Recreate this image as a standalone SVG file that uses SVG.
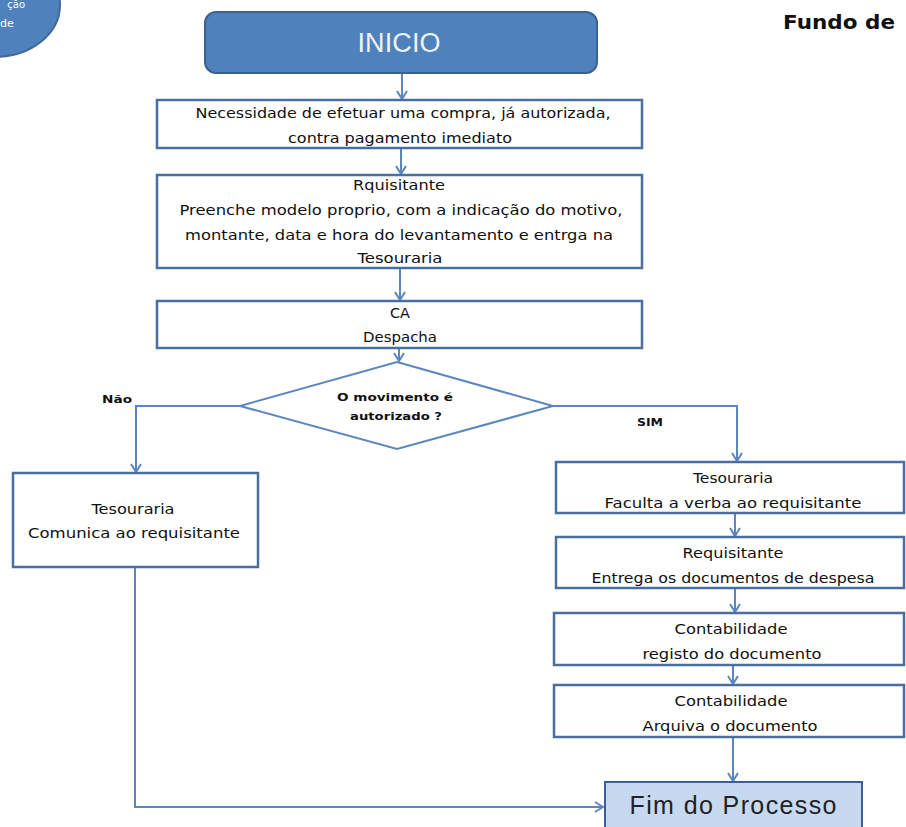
<svg xmlns="http://www.w3.org/2000/svg" width="906" height="827" viewBox="0 0 906 827">
<style>
.box{fill:#ffffff;stroke:#4a6f9e;stroke-width:2.5}
.t{font-family:"DejaVu Sans","Liberation Sans",sans-serif;font-size:13.5px;fill:#111;text-anchor:middle}
.s{font-family:"DejaVu Sans","Liberation Sans",sans-serif;font-size:11px;fill:#111;text-anchor:middle;font-weight:bold}
.c{fill:none;stroke:#5b86bf;stroke-width:2;marker-end:url(#ah)}
</style>
<defs>
<marker id="ah" markerUnits="userSpaceOnUse" viewBox="0 0 10 12" refX="9" refY="6" markerWidth="10" markerHeight="12" orient="auto">
<path d="M1,1 L9,6 L1,11" fill="none" stroke="#5b86bf" stroke-width="2"/>
</marker>
</defs>
<rect width="906" height="827" fill="#ffffff"/>

<g id="corner">
<ellipse cx="-5" cy="5" rx="65" ry="52" fill="#4f81bd" stroke="#42699a" stroke-width="2"/>
<text x="25" y="8" font-family="DejaVu Sans,sans-serif" font-size="10" fill="#fff" text-anchor="end">ção</text>
<text x="0" y="27" font-family="DejaVu Sans,sans-serif" font-size="11" fill="#fff">de</text>
</g>

<g id="title">
<text x="783" y="29" font-family="DejaVu Sans,sans-serif" font-size="20" font-weight="bold" fill="#111" textLength="112" lengthAdjust="spacingAndGlyphs">Fundo de</text>
</g>

<g id="connectors">
<path class="c" d="M402,73 V99"/>
<path class="c" d="M401,148 V174"/>
<path class="c" d="M400,268 V300"/>
<path class="c" d="M399,348 V361"/>
<path class="c" d="M240,406 H136 V472"/>
<path class="c" d="M553,406 H737 V461"/>
<path class="c" d="M735,513 V536"/>
<path class="c" d="M735,588 V612"/>
<path class="c" d="M733,665 V684"/>
<path class="c" d="M733,737 V781"/>
<path class="c" d="M135,568 V807 H603"/>
</g>

<g id="inicio">
<rect x="205" y="12" width="392" height="61" rx="11" fill="#4f81bd" stroke="#3c6090" stroke-width="2"/>
<text x="399" y="52" font-family="Liberation Sans,sans-serif" font-size="27" fill="#eef3fb" text-anchor="middle" textLength="83">INICIO</text>
</g>

<g id="necessidade">
<rect class="box" x="157" y="100" width="485" height="48"/>
<text class="t" x="403" y="118" textLength="415" lengthAdjust="spacingAndGlyphs">Necessidade de efetuar uma compra, já autorizada,</text>
<text class="t" x="400" y="143" textLength="224" lengthAdjust="spacingAndGlyphs">contra pagamento imediato</text>
</g>

<g id="requisitante1">
<rect class="box" x="157" y="175" width="485" height="93"/>
<text class="t" x="399" y="190" textLength="92" lengthAdjust="spacingAndGlyphs">Rquisitante</text>
<text class="t" x="401" y="215" textLength="443" lengthAdjust="spacingAndGlyphs">Preenche modelo proprio, com a indicação do motivo,</text>
<text class="t" x="399" y="240" textLength="428" lengthAdjust="spacingAndGlyphs">montante, data e hora do levantamento e entrga na</text>
<text class="t" x="400" y="263" textLength="85" lengthAdjust="spacingAndGlyphs">Tesouraria</text>
</g>

<g id="ca">
<rect class="box" x="157" y="301" width="485" height="47"/>
<text class="t" x="400" y="318" textLength="20" lengthAdjust="spacingAndGlyphs">CA</text>
<text class="t" x="400" y="342" textLength="74" lengthAdjust="spacingAndGlyphs">Despacha</text>
</g>

<g id="decisao">
<polygon points="397,362 553,406 397,449 240,406" fill="#ffffff" stroke="#5b86bf" stroke-width="2"/>
<text class="s" x="395" y="401" textLength="116" lengthAdjust="spacingAndGlyphs">O movimento é</text>
<text class="s" x="396" y="420" textLength="92" lengthAdjust="spacingAndGlyphs">autorizado ?</text>
</g>

<g id="labels">
<text class="s" x="117" y="403" font-size="10" textLength="30" lengthAdjust="spacingAndGlyphs">Não</text>
<text class="s" x="650" y="426" font-size="10" textLength="26" lengthAdjust="spacingAndGlyphs">SIM</text>
</g>

<g id="comunica">
<rect class="box" x="13" y="473" width="245" height="94"/>
<text class="t" x="133" y="514" textLength="83" lengthAdjust="spacingAndGlyphs">Tesouraria</text>
<text class="t" x="134" y="538" textLength="212" lengthAdjust="spacingAndGlyphs">Comunica ao requisitante</text>
</g>

<g id="faculta">
<rect class="box" x="556" y="462" width="348" height="51"/>
<text class="t" x="733" y="483" textLength="80" lengthAdjust="spacingAndGlyphs">Tesouraria</text>
<text class="t" x="733" y="508" textLength="257" lengthAdjust="spacingAndGlyphs">Faculta a verba ao requisitante</text>
</g>

<g id="entrega">
<rect class="box" x="556" y="537" width="348" height="51"/>
<text class="t" x="733" y="558" textLength="101" lengthAdjust="spacingAndGlyphs">Requisitante</text>
<text class="t" x="733" y="583" textLength="283" lengthAdjust="spacingAndGlyphs">Entrega os documentos de despesa</text>
</g>

<g id="registo">
<rect class="box" x="554" y="613" width="350" height="52"/>
<text class="t" x="731" y="634" textLength="113" lengthAdjust="spacingAndGlyphs">Contabilidade</text>
<text class="t" x="732" y="659" textLength="179" lengthAdjust="spacingAndGlyphs">registo do documento</text>
</g>

<g id="arquiva">
<rect class="box" x="554" y="685" width="350" height="52"/>
<text class="t" x="731" y="706" textLength="113" lengthAdjust="spacingAndGlyphs">Contabilidade</text>
<text class="t" x="730" y="731" textLength="175" lengthAdjust="spacingAndGlyphs">Arquiva o documento</text>
</g>

<g id="fim">
<rect x="605" y="782" width="257" height="60" fill="#c6d9f1" stroke="#3c6090" stroke-width="2"/>
<text x="733" y="814" font-family="Liberation Sans,sans-serif" font-size="25" fill="#222" text-anchor="middle" textLength="207">Fim do Processo</text>
</g>
</svg>
